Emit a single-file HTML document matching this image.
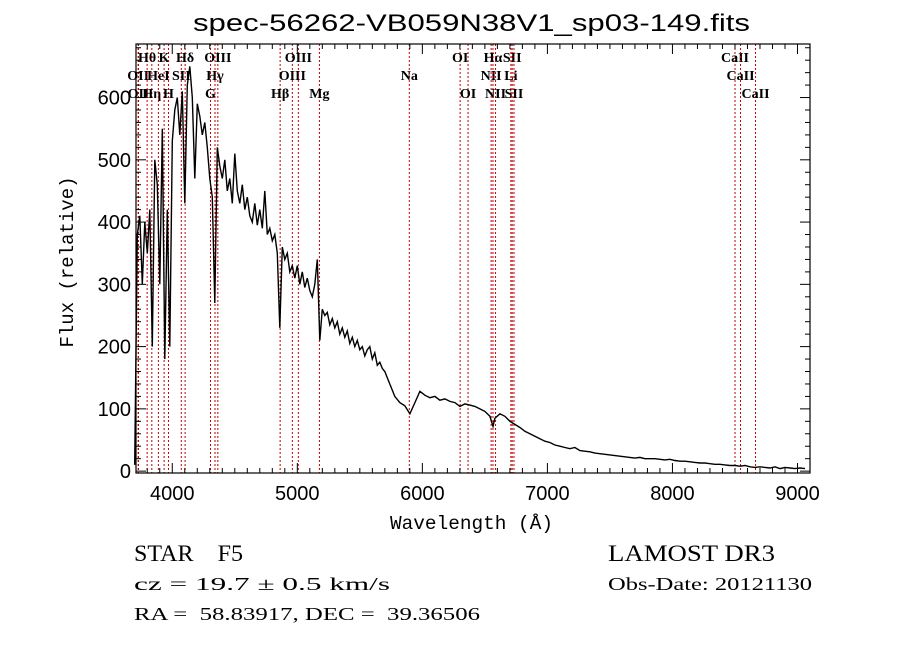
<!DOCTYPE html>
<html><head><meta charset="utf-8">
<style>
html,body{margin:0;padding:0;background:#fff;}
#wrap{position:relative;width:900px;height:649px;overflow:hidden;background:#fff;}
svg text{fill:#000;}
</style></head>
<body>
<div id="wrap">
<svg id="chart" width="900" height="649" xmlns="http://www.w3.org/2000/svg">
<text x="193" y="31" textLength="557" lengthAdjust="spacingAndGlyphs" font-family="Liberation Sans, sans-serif" font-size="24">spec-56262-VB059N38V1_sp03-149.fits</text>
<text x="390" y="529" textLength="163" lengthAdjust="spacingAndGlyphs" font-family="Liberation Mono, monospace" font-size="19">Wavelength (Å)</text>
<text transform="translate(73,262) rotate(-90)" text-anchor="middle" font-family="Liberation Mono, monospace" font-size="19">Flux (relative)</text>
<text x="134" y="561" textLength="109" lengthAdjust="spacingAndGlyphs" font-family="Liberation Serif, serif" font-size="23">STAR&#160;&#160;&#160;&#160;F5</text>
<text x="134" y="590" textLength="256" lengthAdjust="spacingAndGlyphs" font-family="Liberation Serif, serif" font-size="18">cz = 19.7 ± 0.5 km/s</text>
<text x="134" y="620" textLength="346" lengthAdjust="spacingAndGlyphs" font-family="Liberation Serif, serif" font-size="18">RA =&#160;&#160;58.83917, DEC =&#160;&#160;39.36506</text>
<text x="608" y="561" textLength="167" lengthAdjust="spacingAndGlyphs" font-family="Liberation Serif, serif" font-size="23">LAMOST DR3</text>
<text x="608" y="590" textLength="204" lengthAdjust="spacingAndGlyphs" font-family="Liberation Serif, serif" font-size="18">Obs-Date: 20121130</text>
<g id="lines"></g><g id="spec"></g><g id="axes"></g>
</svg>
</div>
<script>
const wavelengths = [3700,3720,3740,3760,3780,3800,3820,3840,3860,3880,3900,3920,3940,3960,3980,4000,4020,4040,4060,4080,4100,4120,4140,4160,4180,4200,4220,4240,4260,4280,4300,4320,4340,4360,4380,4400,4420,4440,4460,4480,4500,4520,4540,4560,4580,4600,4620,4640,4660,4680,4700,4720,4740,4760,4780,4800,4820,4840,4860,4880,4900,4920,4940,4960,4980,5000,5020,5040,5060,5080,5100,5120,5140,5160,5180,5200,5220,5240,5260,5280,5300,5320,5340,5360,5380,5400,5420,5440,5460,5480,5500,5520,5540,5560,5580,5600,5620,5640,5660,5680,5700,5740,5780,5820,5860,5900,5940,5980,6020,6060,6100,6140,6180,6220,6260,6300,6340,6380,6420,6460,6500,6540,6565,6580,6620,6660,6700,6740,6780,6820,6860,6900,6940,6980,7020,7060,7100,7140,7180,7220,7260,7300,7340,7380,7420,7460,7500,7540,7580,7620,7660,7700,7740,7780,7820,7860,7900,7940,7980,8020,8060,8100,8140,8180,8220,8260,8300,8340,8380,8420,8460,8500,8540,8580,8620,8660,8700,8740,8780,8820,8860,8900,8940,8980,9020,9060];
const flux = [10,380,410,300,400,350,420,200,500,460,300,550,180,420,200,530,580,600,540,610,430,620,650,600,470,590,570,540,560,520,470,440,270,520,490,470,500,450,470,430,510,450,430,460,420,440,410,400,430,395,420,390,450,380,390,370,380,350,230,360,340,350,320,330,310,330,300,320,295,310,290,280,300,340,210,260,250,255,235,245,230,240,220,230,215,225,205,215,200,210,195,200,185,195,200,180,190,170,175,165,160,140,120,110,105,92,110,128,122,118,120,114,116,112,110,104,108,106,104,100,96,88,72,85,92,88,80,75,70,64,60,56,52,48,46,42,40,38,36,38,33,32,31,29,28,27,26,25,24,23,22,21,22,20,20,20,19,18,19,17,16,16,15,14,13,13,12,11,11,10,9,9,8,9,7,6,7,6,5,7,4,6,5,4,5,4];
const lineWaves = [3727.1,3729.9,3799.0,3836.5,3889.0,3934.8,3969.6,4072.3,4102.9,4305.6,4341.7,4364.4,4862.7,4960.3,5008.2,5176.7,5895.6,6302.1,6365.5,6549.9,6564.6,6585.3,6707.9,6718.3,6732.7,8500.4,8544.4,8664.5];
const lineNames = ["OII","OII","Hθ","Hη","HeI","K","H","SII","Hδ","G","Hγ","OIII","Hβ","OIII","OIII","Mg","Na","OI","OI","NII","Hα","NII","Li","SII","SII","CaII","CaII","CaII"];
const lineRows = [1,2,0,2,1,0,2,1,0,2,1,0,2,1,0,2,1,0,2,1,0,2,1,0,2,0,1,2];
const xTicks = [4000,5000,6000,7000,8000,9000];
const yTicks = [0,100,200,300,400,500,600];

const NS="http://www.w3.org/2000/svg";
const L=136,R=810,T=44,B=473, XMIN=3710,XMAX=9100, YMIN=-3,YMAX=686;
const sx=v=>L+(v-XMIN)/(XMAX-XMIN)*(R-L);
const sy=v=>B-(v-YMIN)/(YMAX-YMIN)*(B-T);
function mk(tag,attrs,parent){const e=document.createElementNS(NS,tag);for(const k in attrs)e.setAttribute(k,attrs[k]);parent.appendChild(e);return e;}
const gl=document.getElementById('lines'),gs=document.getElementById('spec'),ga=document.getElementById('axes');
const rowY=[62,80,98];
lineWaves.forEach((w,i)=>{
  const x=sx(w);
  const ln=mk('line',{x1:x,x2:x,y1:T,y2:B,stroke:'#c00000','stroke-width':1,'stroke-dasharray':'2,2'},gl);
  
  
  const t=mk('text',{x:x,y:rowY[lineRows[i]],'text-anchor':'middle','font-family':'Liberation Serif, serif','font-size':14,'font-weight':'bold'},gl);
  t.textContent=lineNames[i];
  
  
});
let d='';
wavelengths.forEach((w,i)=>{d+=(i?'L':'M')+sx(w).toFixed(1)+','+sy(flux[i]).toFixed(1);});
const p=mk('path',{d:d,fill:'none',stroke:'#000','stroke-width':1.4},gs);


const box=mk('rect',{x:L,y:T,width:R-L,height:B-T,fill:'none',stroke:'#000','stroke-width':1.2},ga);


for(let w=3800;w<=9100;w+=100){
  const x=sx(w),maj=w%1000===0,len=maj?10:5;
  mk('line',{x1:x,x2:x,y1:B,y2:B-len,stroke:'#000'},ga);
  mk('line',{x1:x,x2:x,y1:T,y2:T+len,stroke:'#000'},ga);
}
for(let v=0;v<=680;v+=20){
  const y=sy(v),maj=v%100===0,len=maj?10:5;
  mk('line',{x1:L,x2:L+len,y1:y,y2:y,stroke:'#000'},ga);
  mk('line',{x1:R,x2:R-len,y1:y,y2:y,stroke:'#000'},ga);
}
xTicks.forEach(v=>{
  const t=mk('text',{x:sx(v),y:B+27,'text-anchor':'middle','font-family':'Liberation Sans, sans-serif','font-size':20},ga);
  t.textContent=v;
  
  
});
yTicks.forEach(v=>{
  const t=mk('text',{x:L-5,y:sy(v)+7,'text-anchor':'end','font-family':'Liberation Sans, sans-serif','font-size':20},ga);
  t.textContent=v;
  
  
});
</script>
</body></html>
